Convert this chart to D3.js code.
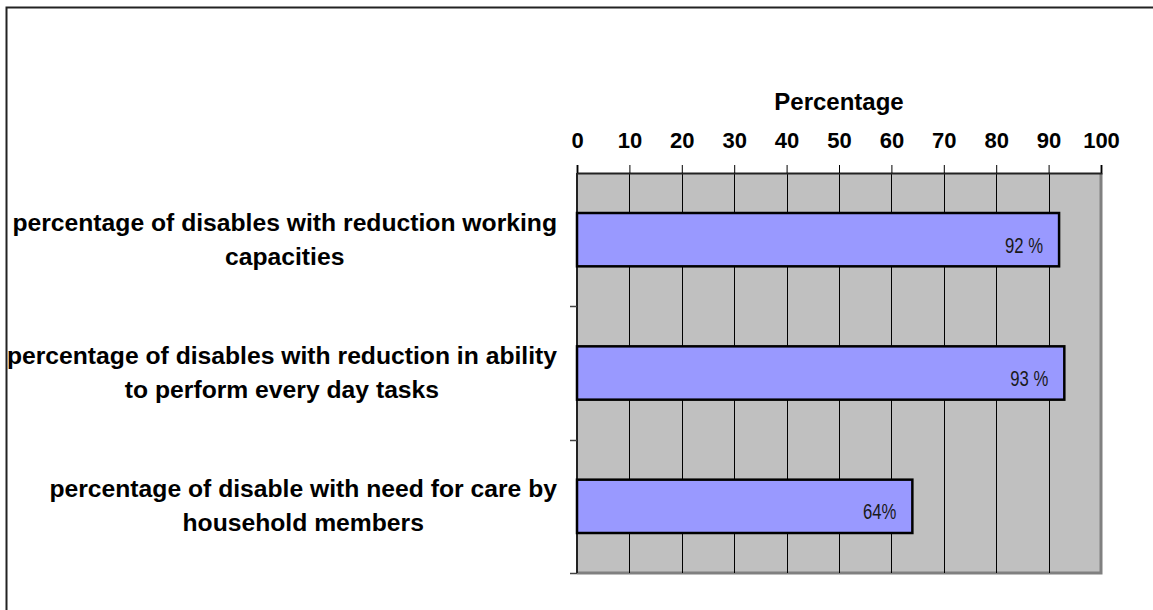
<!DOCTYPE html>
<html>
<head>
<meta charset="utf-8">
<script src="https://cdn.jsdelivr.net/npm/d3@7"></script>
<style>
  html, body { margin: 0; padding: 0; background: #fff; }
  svg { display: block; }
  .cat { font-family: "Liberation Sans", Arial, sans-serif; font-weight: bold; font-size: 24.7px; fill: #000; }
  .tick-label { font-family: "Liberation Sans", Arial, sans-serif; font-weight: bold; font-size: 22px; fill: #000; }
  .title { font-family: "Liberation Sans", Arial, sans-serif; font-weight: bold; font-size: 24px; fill: #000; }
  .val { font-family: "Liberation Sans Narrow", "Arial Narrow", "Liberation Sans", sans-serif; font-size: 22px; fill: #1a1a1a; }
</style>
</head>
<body>
<div id="chart"></div>
<script>
const categories = [
  ["percentage of disables with reduction working", "capacities"],
  ["percentage of disables with reduction in ability", "to perform every day tasks"],
  ["percentage of disable with need for care by", "household members"],
];
const values = [92, 93, 64];
const valueLabels = ["92 %", "93 %", "64%"];
const xTicks = [0, 10, 20, 30, 40, 50, 60, 70, 80, 90, 100];

const W = 1153, H = 610;
const PLOT = { left: 577, right: 1101, top: 173, bottom: 573 };

const svg = d3.select("#chart").append("svg")
  .attr("width", W)
  .attr("height", H);

// outer frame (runs off the right and bottom edge)
svg.append("rect")
  .attr("x", 6.5).attr("y", 7.5)
  .attr("width", W + 20).attr("height", H + 20)
  .attr("fill", "#fff")
  .attr("stroke", "#222")
  .attr("stroke-width", 2);

const x = d3.scaleLinear().domain([0, 100]).range([PLOT.left, PLOT.right]);
const y = d3.scaleBand()
  .domain(d3.range(categories.length))
  .range([PLOT.top, PLOT.bottom])
  .paddingInner(0.6)
  .paddingOuter(0.3);

// plot area
svg.append("rect")
  .attr("x", PLOT.left).attr("y", PLOT.top)
  .attr("width", PLOT.right - PLOT.left)
  .attr("height", PLOT.bottom - PLOT.top)
  .attr("fill", "#c0c0c0");

// right and bottom shadow edges
svg.append("path")
  .attr("d", `M${PLOT.right},${PLOT.top} V${PLOT.bottom} H${PLOT.left}`)
  .attr("fill", "none")
  .attr("stroke", "#808080")
  .attr("stroke-width", 3);

// vertical gridlines
svg.selectAll("line.grid")
  .data(xTicks.slice(1, -1))
  .enter().append("line")
  .attr("class", "grid")
  .attr("x1", d => Math.round(x(d)) + 0.5)
  .attr("x2", d => Math.round(x(d)) + 0.5)
  .attr("y1", PLOT.top)
  .attr("y2", PLOT.bottom)
  .attr("stroke", "#000")
  .attr("stroke-width", 1);

// top axis
const xAxis = svg.append("g")
  .attr("transform", `translate(0,${PLOT.top})`)
  .call(d3.axisTop(x).tickValues(xTicks).tickSize(8).tickPadding(17).tickFormat(d3.format("d")));
xAxis.select(".domain").attr("stroke", "#222").attr("stroke-width", 2);
xAxis.selectAll(".tick line").attr("stroke", "#000");
xAxis.selectAll(".tick text")
  .attr("class", "tick-label")
  .attr("font-family", null).attr("font-size", null);

// title
svg.append("text")
  .attr("class", "title")
  .attr("x", (PLOT.left + PLOT.right) / 2)
  .attr("y", 110)
  .attr("text-anchor", "middle")
  .text("Percentage");

// left axis line and tick marks at band boundaries
svg.append("line")
  .attr("x1", PLOT.left).attr("x2", PLOT.left)
  .attr("y1", PLOT.top).attr("y2", PLOT.bottom)
  .attr("stroke", "#222").attr("stroke-width", 2);
const bounds = d3.range(1, categories.length + 1).map(i => PLOT.top + i * y.step());
svg.selectAll("line.ytick")
  .data(bounds)
  .enter().append("line")
  .attr("class", "ytick")
  .attr("x1", PLOT.left - 7).attr("x2", PLOT.left)
  .attr("y1", d => Math.round(d) + 0.5).attr("y2", d => Math.round(d) + 0.5)
  .attr("stroke", "#444").attr("stroke-width", 1.5);

// bars
svg.selectAll("rect.bar")
  .data(values)
  .enter().append("rect")
  .attr("class", "bar")
  .attr("x", x(0))
  .attr("y", (d, i) => y(i))
  .attr("width", d => x(d) - x(0))
  .attr("height", y.bandwidth())
  .attr("fill", "#9999ff")
  .attr("stroke", "#000")
  .attr("stroke-width", 2.5);

// value labels, squeezed to look like a narrow face
svg.selectAll("text.val")
  .data(values)
  .enter().append("text")
  .attr("class", "val")
  .attr("text-anchor", "end")
  .attr("transform", (d, i) => `translate(${x(d) - 16},${y(i) + y.bandwidth() / 2 + 13}) scale(0.76,1)`)
  .text((d, i) => valueLabels[i]);

// category labels: block right-aligned, lines centred within block
const labelRight = 557;
const lineGap = 34;
categories.forEach((lines, i) => {
  const cy = y(i) + y.bandwidth() / 2;
  const g = svg.append("g");
  const texts = lines.map((t, j) => g.append("text")
    .attr("class", "cat")
    .attr("text-anchor", "middle")
    .attr("y", cy + (j - (lines.length - 1) / 2) * lineGap + 8)
    .text(t));
  const maxW = d3.max(texts, t => t.node().getComputedTextLength());
  texts.forEach(t => t.attr("x", labelRight - maxW / 2));
});
</script>
</body>
</html>
